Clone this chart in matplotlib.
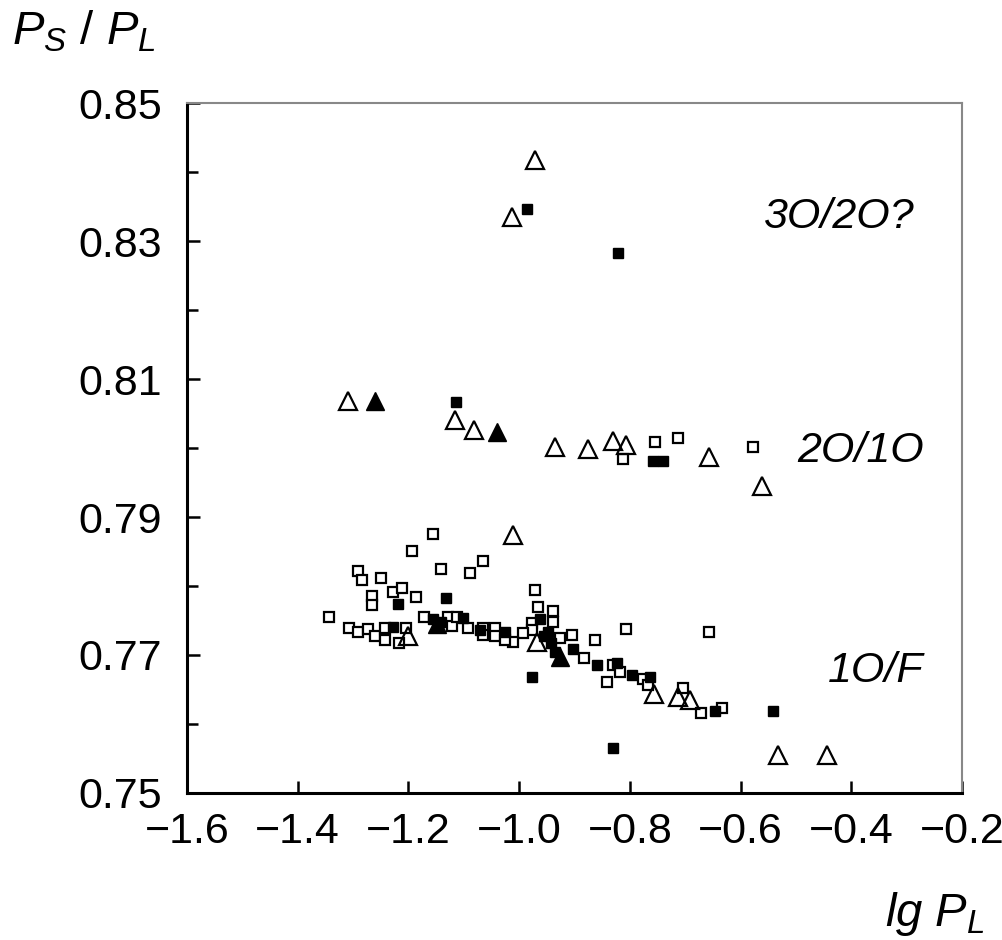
import matplotlib
matplotlib.use("Agg")
import matplotlib.pyplot as plt
from matplotlib.ticker import MultipleLocator, FixedLocator

plt.rcParams['font.family'] = ['Liberation Sans', 'DejaVu Sans']
plt.rcParams['mathtext.fontset'] = 'custom'
plt.rcParams['mathtext.it'] = 'Liberation Sans:italic'
plt.rcParams['mathtext.rm'] = 'Liberation Sans'

# Open triangles (lg P_L, P_S/P_L)
open_tri_x = [-0.971, -1.013, -1.309, -1.116, -1.082, -0.935, -0.876, -0.830,
              -0.807, -0.657, -0.561, -1.011, -1.201, -0.756, -0.713, -0.691,
              -0.532, -0.444, -0.968]
open_tri_y = [0.8417, 0.8335, 0.8068, 0.8041, 0.8026, 0.8001, 0.7999, 0.8010,
              0.8004, 0.7987, 0.7945, 0.7874, 0.7728, 0.7643, 0.7639, 0.7635,
              0.7555, 0.7555, 0.7719]

# Filled triangles
fill_tri_x = [-1.260, -1.040, -0.926, -1.148]
fill_tri_y = [0.8068, 0.8023, 0.7697, 0.7745]

# Filled squares
fill_sq_x = [-0.986, -0.821, -1.114, -0.758, -0.740, -1.132, -1.219, -0.962,
             -0.977, -0.859, -0.823, -0.796, -0.764, -0.903, -1.026, -0.830,
             -0.541, -0.646, -1.101, -1.070, -1.228, -0.948, -0.942, -0.935,
             -0.955, -1.142, -1.155]
fill_sq_y = [0.8346, 0.8283, 0.8067, 0.7981, 0.7981, 0.7783, 0.7774, 0.7752,
             0.7668, 0.7686, 0.7688, 0.7671, 0.7668, 0.7709, 0.7733, 0.7565,
             0.7619, 0.7619, 0.7754, 0.7736, 0.7741, 0.7734, 0.7718, 0.7705,
             0.7727, 0.7748, 0.7752]

# Open squares
open_sq_x = [-1.156, -1.194, -1.065, -1.141, -1.089, -1.291, -1.284, -1.250,
             -1.266, -1.266, -1.228, -1.212, -1.186, -1.343, -1.307, -1.291,
             -1.273, -1.260, -1.242, -1.242, -1.217, -1.204, -1.172, -1.129,
             -1.121, -1.112, -1.092, -1.065, -1.065, -1.044, -1.044,
             -0.971, -0.966, -0.939, -0.939, -0.977, -0.977, -0.993, -1.011,
             -1.026, -0.905, -0.863, -0.807, -0.883, -0.830, -0.818, -0.841,
             -0.776, -0.767, -0.926, -0.657, -0.704, -0.672, -0.634,
             -0.755, -0.713, -0.812, -0.578]
open_sq_y = [0.7875, 0.7851, 0.7836, 0.7825, 0.7819, 0.7822, 0.7809, 0.7812,
             0.7786, 0.7772, 0.7791, 0.7797, 0.7784, 0.7755, 0.7739, 0.7733,
             0.7738, 0.7728, 0.7722, 0.7739, 0.7717, 0.7739, 0.7755, 0.7755,
             0.7742, 0.7755, 0.7739, 0.7739, 0.7729, 0.7739, 0.7728,
             0.7794, 0.7770, 0.7764, 0.7748, 0.7746, 0.7736, 0.7732, 0.7719,
             0.7722, 0.7729, 0.7722, 0.7738, 0.7696, 0.7686, 0.7675, 0.7661,
             0.7665, 0.7657, 0.7725, 0.7733, 0.7652, 0.7616, 0.7623,
             0.8009, 0.8014, 0.7984, 0.8001]

fig = plt.figure(figsize=(10.03, 9.4), dpi=100)
ax = fig.add_axes([0.1864, 0.1564, 0.9591 - 0.1864, 0.8904 - 0.1564])

sq_ms = 7.5
tri_ms = 13
ax.plot(open_sq_x, open_sq_y, linestyle='none', marker='s', ms=sq_ms,
        mfc='white', mec='black', mew=1.6, zorder=3)
ax.plot(fill_sq_x, fill_sq_y, linestyle='none', marker='s', ms=sq_ms,
        mfc='black', mec='black', mew=1.0, zorder=4)
ax.plot(open_tri_x, open_tri_y, linestyle='none', marker='^', ms=tri_ms,
        mfc='none', mec='black', mew=1.6, zorder=5)
ax.plot(fill_tri_x, fill_tri_y, linestyle='none', marker='^', ms=tri_ms,
        mfc='black', mec='black', mew=1.0, zorder=6)

ax.set_xlim(-1.6, -0.2)
ax.set_ylim(0.75, 0.85)
ax.xaxis.set_major_locator(MultipleLocator(0.2))
ax.yaxis.set_major_locator(FixedLocator([0.75, 0.77, 0.79, 0.81, 0.83, 0.85]))
ax.yaxis.set_minor_locator(FixedLocator([0.76, 0.78, 0.80, 0.82, 0.84]))
ax.xaxis.set_major_formatter(plt.FuncFormatter(lambda v, p: f"{v:.1f}".replace('-', '\u2212')))
ax.yaxis.set_major_formatter(plt.FuncFormatter(lambda v, p: f"{v:.2f}"))

ax.tick_params(axis='both', which='major', direction='in', length=9, width=1.8,
               labelsize=31, pad=14, top=False, right=False)
ax.tick_params(axis='y', which='minor', direction='in', length=8, width=1.8, right=False)
ax.tick_params(axis='y', which='major', pad=18)

for side in ('left', 'bottom'):
    ax.spines[side].set_color('black')
    ax.spines[side].set_linewidth(2.2)
for side in ('top', 'right'):
    ax.spines[side].set_color('#888888')
    ax.spines[side].set_linewidth(1.5)

label_kw = dict(fontsize=31, style='italic', transform=ax.transData)
ax.text(-0.286, 0.8335, '3O/2O?', ha='right', va='center', **label_kw)
ax.text(-0.269, 0.7995, '2O/1O', ha='right', va='center', **label_kw)
ax.text(-0.269, 0.7677, '1O/F', ha='right', va='center', **label_kw)

fig.text(0.012, 0.966, r'$P_S\ /\ P_L$', fontsize=34, ha='left', va='center')
fig.text(0.982, 0.028, r'$lg\ P_L$', fontsize=34, ha='right', va='center')

fig.savefig('out.png', dpi=100, facecolor='white')
